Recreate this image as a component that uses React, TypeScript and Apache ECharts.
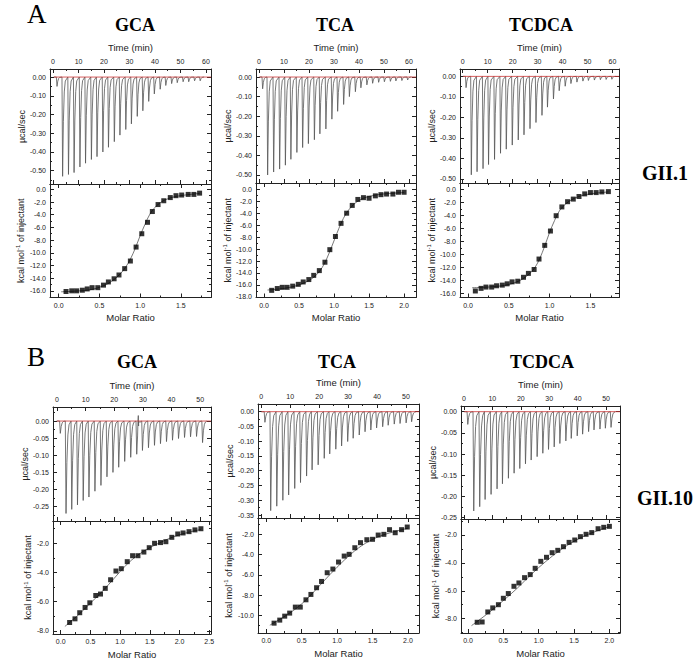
import React, { useEffect, useRef } from 'react';
import * as echarts from 'echarts';

// ---------------- DATA ----------------
// Thermogram injection times (min) and peak heights (µcal/sec)
const aGcaTimes = [1.3, 3.5, 5.8, 8.0, 10.3, 12.5, 14.8, 17.0, 19.3, 21.5, 23.8, 26.0, 28.3, 30.5, 32.8, 35.0, 37.3, 39.5, 41.8, 44.0, 46.3, 48.5, 50.8, 53.0, 55.3, 57.5];
const aGcaPeaks = [-0.05, -0.53, -0.52, -0.51, -0.48, -0.46, -0.44, -0.425, -0.40, -0.375, -0.345, -0.31, -0.28, -0.25, -0.21, -0.18, -0.13, -0.09, -0.065, -0.045, -0.035, -0.03, -0.025, -0.025, -0.02, -0.02];
const aTcaTimes = [1.2, 3.2, 5.6, 8.0, 10.3, 12.5, 14.9, 17.2, 19.5, 21.9, 24.1, 26.5, 28.9, 31.2, 33.6, 35.9, 38.3, 40.5, 42.9, 45.2, 47.6, 49.9, 52.3, 54.5, 56.9, 59.2];
const aTcaPeaks = [-0.06, -0.50, -0.485, -0.47, -0.45, -0.42, -0.385, -0.36, -0.34, -0.32, -0.29, -0.265, -0.215, -0.175, -0.14, -0.10, -0.075, -0.055, -0.04, -0.032, -0.027, -0.024, -0.022, -0.02, -0.018, -0.015];
const aTcdcaTimes = [1.1, 3.2, 5.5, 7.9, 10.1, 12.5, 14.9, 17.2, 19.6, 22.0, 24.3, 26.7, 29.1, 31.5, 33.7, 36.1, 38.4, 40.8, 43.1, 45.5, 47.9, 50.1, 52.5, 54.9, 57.2, 59.5];
const aTcdcaPeaks = [-0.055, -0.48, -0.465, -0.45, -0.43, -0.405, -0.375, -0.355, -0.335, -0.31, -0.285, -0.255, -0.225, -0.19, -0.15, -0.11, -0.07, -0.048, -0.035, -0.028, -0.023, -0.02, -0.018, -0.016, -0.015, -0.014];
const bGcaTimes = [0.9, 2.9, 4.9, 6.9, 8.9, 10.9, 13.0, 15.1, 17.2, 19.3, 21.3, 23.4, 25.5, 27.6, 29.6, 31.7, 33.8, 35.9, 38.0, 40.1, 42.2, 44.3, 46.4, 48.5, 50.6];
const bGcaPeaks = [-0.036, -0.27, -0.258, -0.245, -0.232, -0.222, -0.205, -0.188, -0.163, -0.15, -0.135, -0.118, -0.106, -0.097, -0.086, -0.078, -0.071, -0.066, -0.06, -0.056, -0.051, -0.048, -0.046, -0.045, -0.063];
const bGcaGlitch = [[28.4, 0.016]];
const bTcaTimes = [1.0, 3.0, 5.1, 7.2, 9.2, 11.3, 13.3, 15.4, 17.3, 19.4, 21.5, 23.4, 25.5, 27.5, 29.6, 31.5, 33.6, 35.6, 37.6, 39.6, 41.7, 43.6, 45.7, 47.7, 49.8, 51.7];
const bTcaPeaks = [-0.036, -0.335, -0.32, -0.30, -0.282, -0.26, -0.24, -0.218, -0.197, -0.18, -0.158, -0.143, -0.127, -0.116, -0.101, -0.09, -0.079, -0.068, -0.062, -0.055, -0.051, -0.046, -0.042, -0.04, -0.038, -0.034];
const bTcdcaTimes = [1.1, 3.2, 5.3, 7.2, 9.3, 11.4, 13.3, 15.4, 17.4, 19.4, 21.4, 23.4, 25.5, 27.5, 29.5, 31.5, 33.5, 35.6, 37.5, 39.6, 41.5, 43.6, 45.5, 47.6, 49.5, 51.5];
const bTcdcaPeaks = [-0.03, -0.234, -0.224, -0.207, -0.195, -0.182, -0.17, -0.157, -0.145, -0.134, -0.123, -0.114, -0.106, -0.098, -0.089, -0.083, -0.075, -0.069, -0.063, -0.057, -0.053, -0.047, -0.043, -0.041, -0.039, -0.037];

// Isotherms: molar ratio, integrated heat (kcal/mol of injectant), fitted curve
const aGcaRatio = [0.09, 0.16, 0.22, 0.29, 0.35, 0.41, 0.48, 0.55, 0.61, 0.68, 0.74, 0.81, 0.88, 0.95, 1.02, 1.09, 1.15, 1.22, 1.29, 1.37, 1.44, 1.51, 1.59, 1.66, 1.73];
const aGcaHeat = [-16.1, -16.0, -16.0, -15.9, -15.7, -15.5, -15.5, -15.1, -14.6, -14.1, -13.5, -12.5, -11.3, -9.1, -7.0, -5.2, -3.5, -2.4, -1.8, -1.3, -1.0, -0.9, -0.8, -0.8, -0.6];
const aGcaFitX = [0.03, 0.2, 0.4, 0.55, 0.65, 0.75, 0.82, 0.88, 0.94, 1.0, 1.06, 1.12, 1.2, 1.3, 1.45, 1.73];
const aGcaFitY = [-16.15, -16.05, -15.8, -15.2, -14.5, -13.4, -12.3, -11.0, -9.3, -7.3, -5.5, -3.9, -2.6, -1.7, -1.1, -0.65];

const aTcaRatio = [0.11, 0.19, 0.26, 0.33, 0.41, 0.49, 0.56, 0.64, 0.71, 0.79, 0.87, 0.94, 1.02, 1.10, 1.18, 1.26, 1.34, 1.42, 1.50, 1.59, 1.67, 1.75, 1.84, 1.92, 2.00];
const aTcaHeat = [-16.9, -16.6, -16.4, -16.4, -16.2, -15.9, -15.5, -15.1, -14.4, -13.6, -12.2, -10.1, -7.9, -5.7, -4.0, -2.7, -1.7, -1.4, -1.5, -1.1, -0.9, -0.8, -0.8, -0.5, -0.5];
const aTcaFitX = [0.05, 0.3, 0.5, 0.65, 0.75, 0.83, 0.9, 0.97, 1.04, 1.1, 1.17, 1.25, 1.35, 1.5, 1.7, 2.0];
const aTcaFitY = [-16.85, -16.55, -16.0, -15.2, -14.3, -13.1, -11.5, -9.5, -7.4, -5.7, -4.1, -2.9, -1.9, -1.2, -0.8, -0.55];

const aTcdcaRatio = [0.09, 0.16, 0.22, 0.29, 0.35, 0.42, 0.48, 0.54, 0.61, 0.68, 0.74, 0.81, 0.87, 0.94, 1.01, 1.08, 1.15, 1.22, 1.29, 1.36, 1.43, 1.50, 1.57, 1.64, 1.72];
const aTcdcaHeat = [-15.6, -15.2, -15.0, -15.0, -14.8, -14.7, -14.5, -14.2, -14.1, -13.5, -12.9, -12.3, -10.7, -8.6, -6.4, -4.05, -2.7, -1.9, -1.5, -1.1, -0.7, -0.5, -0.5, -0.4, -0.35];
const aTcdcaFitX = [0.05, 0.3, 0.5, 0.65, 0.75, 0.82, 0.88, 0.94, 1.0, 1.06, 1.12, 1.2, 1.3, 1.45, 1.72];
const aTcdcaFitY = [-15.1, -14.95, -14.6, -13.9, -13.0, -12.0, -10.6, -8.7, -6.6, -4.8, -3.3, -2.2, -1.4, -0.8, -0.4];

const bGcaRatio = [0.15, 0.24, 0.32, 0.41, 0.49, 0.59, 0.67, 0.75, 0.84, 0.93, 1.02, 1.12, 1.21, 1.30, 1.40, 1.49, 1.58, 1.68, 1.77, 1.87, 1.97, 2.06, 2.16, 2.26, 2.36];
const bGcaHeat = [-7.43, -7.18, -6.76, -6.4, -6.08, -5.58, -5.48, -5.09, -4.5, -3.9, -3.74, -3.26, -2.85, -2.85, -2.6, -2.3, -2.0, -1.95, -1.89, -1.59, -1.36, -1.29, -1.2, -1.08, -1.0];
const bGcaFitX = [0.07, 0.3, 0.5, 0.7, 0.9, 1.1, 1.3, 1.5, 1.7, 1.9, 2.1, 2.36];
const bGcaFitY = [-7.7, -6.9, -6.1, -5.3, -4.4, -3.5, -2.8, -2.3, -1.9, -1.55, -1.3, -1.05];

const bTcaRatio = [0.11, 0.19, 0.26, 0.33, 0.41, 0.48, 0.56, 0.63, 0.71, 0.78, 0.86, 0.94, 1.02, 1.10, 1.17, 1.25, 1.33, 1.42, 1.50, 1.58, 1.66, 1.74, 1.82, 1.91, 1.99];
const bTcaHeat = [-10.75, -10.45, -10.06, -9.76, -9.17, -9.17, -8.45, -7.92, -7.26, -6.64, -5.78, -5.42, -4.73, -4.14, -3.97, -3.32, -2.82, -2.53, -2.49, -2.07, -2.0, -1.54, -1.84, -1.54, -1.28];
const bTcaFitX = [0.05, 0.3, 0.5, 0.7, 0.9, 1.1, 1.3, 1.5, 1.7, 2.0];
const bTcaFitY = [-10.95, -9.9, -8.85, -7.45, -5.95, -4.55, -3.35, -2.5, -1.95, -1.4];

const bTcdcaRatio = [0.13, 0.20, 0.28, 0.35, 0.43, 0.50, 0.57, 0.65, 0.72, 0.80, 0.88, 0.95, 1.03, 1.11, 1.19, 1.27, 1.35, 1.43, 1.51, 1.59, 1.67, 1.75, 1.84, 1.92, 2.00];
const bTcdcaHeat = [-8.26, -8.24, -7.52, -7.23, -7.0, -6.54, -6.2, -5.68, -5.44, -5.06, -4.84, -4.39, -3.89, -3.6, -3.27, -3.1, -2.84, -2.53, -2.36, -2.12, -1.95, -1.83, -1.55, -1.45, -1.38];
const bTcdcaFitX = [0.05, 0.3, 0.5, 0.7, 0.9, 1.1, 1.3, 1.5, 1.7, 2.0];
const bTcdcaFitY = [-8.5, -7.55, -6.7, -5.8, -4.8, -3.9, -3.1, -2.45, -1.95, -1.4];

// Tick labels
const timeTicksA = [0, 10, 20, 30, 40, 50, 60];
const timeTicksB = [0, 10, 20, 30, 40, 50];
const powerTicksA = [0, -0.1, -0.2, -0.3, -0.4, -0.5];
const powerTicksB25 = [0, -0.05, -0.1, -0.15, -0.2, -0.25];
const powerTicksB35 = [0, -0.05, -0.1, -0.15, -0.2, -0.25, -0.3, -0.35];
const ratioTicks15 = [0, 0.5, 1.0, 1.5];
const ratioTicks20 = [0, 0.5, 1.0, 1.5, 2.0];
const ratioTicks25 = [0, 0.5, 1.0, 1.5, 2.0, 2.5];
const heatTicks16 = [0, -2, -4, -6, -8, -10, -12, -14, -16];
const heatTicks18 = [0, -2, -4, -6, -8, -10, -12, -14, -16, -18];
const heatTicksB8 = [-2, -4, -6, -8];
const heatTicksB10 = [-2, -4, -6, -8, -10];

// ---------------- LAYOUT ----------------
type Box = { left: number; top: number; width: number; height: number };
type Panel = {
  tGrid: Box; iGrid: Box;
  timeRange: [number, number]; timeTicks: number[];
  powerRange: [number, number]; powerTicks: number[]; powerMinor: number;
  ratioRange: [number, number]; ratioTicks: number[];
  heatRange: [number, number]; heatTicks: number[];
  times: number[]; peaks: number[]; glitch?: number[][];
  ratio: number[]; heat: number[]; fitX: number[]; fitY: number[];
  yGap: number;
};

const panels: Panel[] = [
  {
    tGrid: { left: 50, top: 69, width: 161, height: 115 }, iGrid: { left: 50, top: 184, width: 161, height: 113.5 },
    timeRange: [-1.2, 62], timeTicks: timeTicksA, powerRange: [-0.571, 0.043], powerTicks: powerTicksA, powerMinor: 0.05,
    ratioRange: [-0.107, 1.87], ratioTicks: ratioTicks15, heatRange: [-17.05, 0.84], heatTicks: heatTicks16,
    times: aGcaTimes, peaks: aGcaPeaks, ratio: aGcaRatio, heat: aGcaHeat, fitX: aGcaFitX, fitY: aGcaFitY, yGap: 24,
  },
  {
    tGrid: { left: 256, top: 69, width: 160, height: 114 }, iGrid: { left: 256, top: 183, width: 160, height: 114.5 },
    timeRange: [-1.2, 62.8], timeTicks: timeTicksA, powerRange: [-0.541, 0.041], powerTicks: powerTicksA, powerMinor: 0.05,
    ratioRange: [-0.114, 2.17], ratioTicks: ratioTicks20, heatRange: [-18.1, 1.05], heatTicks: heatTicks18,
    times: aTcaTimes, peaks: aTcaPeaks, ratio: aTcaRatio, heat: aTcaHeat, fitX: aTcaFitX, fitY: aTcaFitY, yGap: 23,
  },
  {
    tGrid: { left: 460, top: 69, width: 159, height: 114 }, iGrid: { left: 460, top: 183, width: 159, height: 114.5 },
    timeRange: [-1.08, 62.6], timeTicks: timeTicksA, powerRange: [-0.52, 0.036], powerTicks: powerTicksA, powerMinor: 0.05,
    ratioRange: [-0.098, 1.85], ratioTicks: ratioTicks15, heatRange: [-16.6, 0.97], heatTicks: heatTicks16,
    times: aTcdcaTimes, peaks: aTcdcaPeaks, ratio: aTcdcaRatio, heat: aTcdcaHeat, fitX: aTcdcaFitX, fitY: aTcdcaFitY, yGap: 22.5,
  },
  {
    tGrid: { left: 53, top: 407, width: 158, height: 114 }, iGrid: { left: 53, top: 521, width: 158, height: 113 },
    timeRange: [-1.4, 53.8], timeTicks: timeTicksB, powerRange: [-0.292, 0.041], powerTicks: powerTicksB25, powerMinor: 0.025,
    ratioRange: [-0.13, 2.53], ratioTicks: ratioTicks25, heatRange: [-8.22, -0.47], heatTicks: heatTicksB8,
    times: bGcaTimes, peaks: bGcaPeaks, glitch: bGcaGlitch, ratio: bGcaRatio, heat: bGcaHeat, fitX: bGcaFitX, fitY: bGcaFitY, yGap: 19.5,
  },
  {
    tGrid: { left: 258, top: 404, width: 161, height: 114 }, iGrid: { left: 258, top: 518, width: 161, height: 115 },
    timeRange: [-1.14, 54.5], timeTicks: timeTicksB, powerRange: [-0.36, 0.026], powerTicks: powerTicksB35, powerMinor: 0.025,
    ratioRange: [-0.117, 2.156], ratioTicks: ratioTicks20, heatRange: [-11.72, -0.39], heatTicks: heatTicksB10,
    times: bTcaTimes, peaks: bTcaPeaks, ratio: bTcaRatio, heat: bTcaHeat, fitX: bTcaFitX, fitY: bTcaFitY, yGap: 24,
  },
  {
    tGrid: { left: 461, top: 406, width: 159, height: 113 }, iGrid: { left: 461, top: 519, width: 159, height: 114 },
    timeRange: [-1.03, 54.9], timeTicks: timeTicksB, powerRange: [-0.253, 0.0134], powerTicks: powerTicksB25, powerMinor: 0.025,
    ratioRange: [-0.099, 2.15], ratioTicks: ratioTicks20, heatRange: [-9.03, -0.853], heatTicks: heatTicksB8,
    times: bTcdcaTimes, peaks: bTcdcaPeaks, ratio: bTcdcaRatio, heat: bTcdcaHeat, fitX: bTcdcaFitX, fitY: bTcdcaFitY, yGap: 19.5,
  },
];

const FONT = "'Liberation Sans', Arial, Helvetica, sans-serif";
const SERIF = "'Liberation Serif', 'Times New Roman', serif";
const INK = '#222';

function minorValues(min: number, max: number, step: number, majors: number[]) {
  const out: number[] = [];
  const s = Math.ceil(min / step - 1e-9);
  const e = Math.floor(max / step + 1e-9);
  for (let k = s; k <= e; k++) {
    const v = +(k * step).toFixed(6);
    if (!majors.some((m) => Math.abs(m - v) < 1e-9)) out.push(v);
  }
  return out;
}

function axisSet(gridIndex: number, range: [number, number], majors: number[], minorStep: number,
  mainPos: string, oppPos: string, dec: number, nameCfg: any) {
  const minors = minorValues(range[0], range[1], minorStep, majors);
  const lineStyle = { color: INK, width: 1 };
  const base = { type: 'value', gridIndex, min: range[0], max: range[1], splitLine: { show: false }, axisPointer: { show: false } };
  const main = {
    ...base, position: mainPos,
    axisLine: { show: true, onZero: false, lineStyle },
    axisTick: { show: true, inside: true, length: 4, customValues: majors, lineStyle },
    axisLabel: { show: true, customValues: majors, formatter: (v: number) => v.toFixed(dec), fontSize: 7, fontFamily: FONT, color: INK, margin: 4 },
    ...nameCfg,
  };
  const mainMinor = {
    ...base, position: mainPos,
    axisLine: { show: false, onZero: false },
    axisTick: { show: true, inside: true, length: 2, customValues: minors, lineStyle },
    axisLabel: { show: false },
  };
  const opp = {
    ...base, position: oppPos,
    axisLine: { show: true, onZero: false, lineStyle },
    axisTick: { show: true, inside: true, length: 4, customValues: majors, lineStyle },
    axisLabel: { show: false },
  };
  const oppMinor = { ...mainMinor, position: oppPos };
  return [main, mainMinor, opp, oppMinor];
}

function thermoData(times: number[], peaks: number[], glitch?: number[][]) {
  const pts: number[][] = [[times[0] - 1, 0]];
  times.forEach((t, i) => {
    const d = peaks[i];
    pts.push([t, 0], [t + 0.25, d], [t + 0.55, d * 0.45], [t + 0.9, d * 0.15], [t + 1.3, d * 0.04]);
  });
  pts.push([times[times.length - 1] + 1.8, 0]);
  (glitch || []).forEach(([t, v]) => {
    pts.push([t - 0.12, 0], [t, v], [t + 0.12, 0]);
  });
  pts.sort((a, b) => a[0] - b[0]);
  return pts;
}

// baseline (0 µcal/sec) spanning the run, from just before the first injection to the end of the record
function baselineData(times: number[], range: [number, number]) {
  return [[times[0] - 1, 0], [range[1], 0]];
}

const nameStyle = { fontSize: 9.5, fontFamily: FONT, color: INK };

function buildOption() {
  const grids: any[] = [];
  const xAxes: any[] = [];
  const yAxes: any[] = [];
  const series: any[] = [];

  panels.forEach((p) => {
    // Thermogram
    const gT = grids.length;
    grids.push({ ...p.tGrid, containLabel: false, outerBoundsMode: 'none' });
    const xT = xAxes.length;
    xAxes.push(...axisSet(gT, p.timeRange, p.timeTicks, 5, 'top', 'bottom', 0,
      { name: 'Time (min)', nameLocation: 'middle', nameGap: 17, nameTextStyle: nameStyle }));
    const yT = yAxes.length;
    yAxes.push(...axisSet(gT, p.powerRange, p.powerTicks, p.powerMinor, 'left', 'right', 2,
      { name: 'µcal/sec', nameLocation: 'middle', nameGap: p.yGap, nameTextStyle: { fontSize: 9, fontFamily: FONT, color: INK } }));
    series.push({
      type: 'line', xAxisIndex: xT, yAxisIndex: yT, data: thermoData(p.times, p.peaks, p.glitch),
      showSymbol: false, symbol: 'none', lineStyle: { color: '#555', width: 0.8 }, z: 3, silent: true,
    });
    series.push({
      type: 'line', xAxisIndex: xT, yAxisIndex: yT, data: baselineData(p.times, p.timeRange),
      showSymbol: false, symbol: 'none', lineStyle: { color: '#cc3333', width: 0.8 }, z: 6, silent: true,
    });

    // Isotherm
    const gI = grids.length;
    grids.push({ ...p.iGrid, containLabel: false, outerBoundsMode: 'none' });
    const xI = xAxes.length;
    xAxes.push(...axisSet(gI, p.ratioRange, p.ratioTicks, 0.25, 'bottom', 'top', 1,
      { name: 'Molar Ratio', nameLocation: 'middle', nameGap: 15, nameTextStyle: nameStyle }));
    const yI = yAxes.length;
    yAxes.push(...axisSet(gI, p.heatRange, p.heatTicks, 1, 'left', 'right', 1,
      {
        name: '{a|kcal mol}{s|-1}{a| of injectant}', nameLocation: 'middle', nameGap: p.yGap,
        nameTextStyle: {
          fontSize: 9, fontFamily: FONT, color: INK,
          rich: {
            a: { fontSize: 9, fontFamily: FONT, color: INK, lineHeight: 11 },
            s: { fontSize: 6, fontFamily: FONT, color: INK, verticalAlign: 'top', lineHeight: 6 },
          },
        },
      }));
    series.push({
      type: 'line', xAxisIndex: xI, yAxisIndex: yI, smooth: 0.35,
      data: p.fitX.map((x, i) => [x, p.fitY[i]]),
      showSymbol: false, symbol: 'none', lineStyle: { color: '#555', width: 0.8 }, z: 2, silent: true,
    });
    series.push({
      type: 'scatter', xAxisIndex: xI, yAxisIndex: yI, symbol: 'rect', symbolSize: 5,
      data: p.ratio.map((x, i) => [x, p.heat[i]]), itemStyle: { color: '#000' }, z: 4,
    });
  });

  const titleStyle = (text: string, x: number, y: number, size: number, weight: string) => ({
    type: 'text', x, y, silent: true,
    style: { text, fontSize: size, fontFamily: SERIF, fontWeight: weight, fill: '#000', align: 'center', verticalAlign: 'middle' },
  });

  const graphic = [
    { type: 'text', x: 27, y: 14, silent: true, style: { text: 'A', fontSize: 27, fontFamily: SERIF, fill: '#000', align: 'left', verticalAlign: 'middle' } },
    { type: 'text', x: 27, y: 357, silent: true, style: { text: 'B', fontSize: 27, fontFamily: SERIF, fill: '#000', align: 'left', verticalAlign: 'middle' } },
    titleStyle('GCA', 135, 25, 18, 'bold'),
    titleStyle('TCA', 335, 25, 18, 'bold'),
    titleStyle('TCDCA', 541, 25, 18, 'bold'),
    titleStyle('GCA', 137, 362, 18, 'bold'),
    titleStyle('TCA', 337, 362, 18, 'bold'),
    titleStyle('TCDCA', 542, 362, 18, 'bold'),
    titleStyle('GII.1', 665, 173, 20, 'bold'),
    titleStyle('GII.10', 665, 498, 20, 'bold'),
  ];

  return {
    animation: false,
    backgroundColor: '#fff',
    grid: grids,
    xAxis: xAxes,
    yAxis: yAxes,
    series,
    graphic,
  };
}

export default function App() {
  const ref = useRef<HTMLDivElement>(null);
  useEffect(() => {
    if (!ref.current) return;
    const chart = echarts.init(ref.current, null, { renderer: 'svg' });
    chart.setOption(buildOption() as any);
    return () => chart.dispose();
  }, []);
  return (
    <div
      ref={ref}
      style={{ position: 'absolute', left: 0, top: 0, width: 696, height: 659, background: '#fff' }}
    />
  );
}
